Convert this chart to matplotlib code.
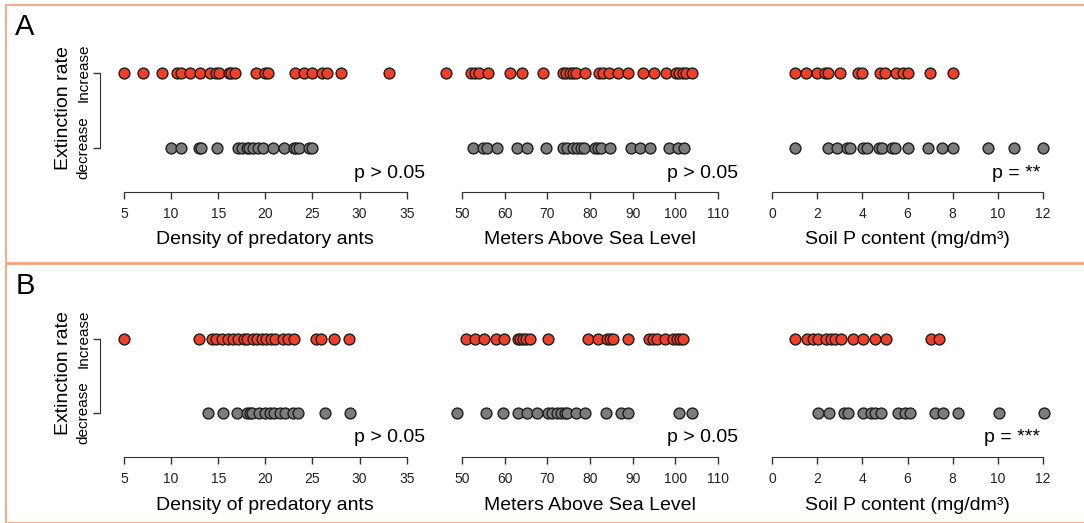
import numpy as np
import matplotlib.pyplot as plt
from matplotlib.patches import Rectangle

plt.rcParams['font.family'] = ['Liberation Sans', 'DejaVu Sans']

# ---- panel A ----
a_ants_inc = [5, 7, 9, 10.6, 11.0, 12.0, 13.1, 14.1, 14.8, 15.1, 16.1, 16.4, 16.8,
              19.0, 20.0, 20.3, 23.1, 24.1, 25.0, 26.0, 26.5, 28.0, 33.1]
a_ants_dec = [10.0, 11.0, 13.0, 13.2, 14.9, 17.1, 17.5, 18.0, 18.3, 18.7, 19.2, 19.7,
              20.8, 22.0, 23.0, 23.3, 23.6, 24.6, 24.9]
a_alt_inc = [46.2, 52.0, 53.0, 54.0, 56.1, 61.2, 64.1, 68.9, 73.7, 74.4, 75.2, 76.0,
             76.8, 78.9, 82.2, 83.0, 84.5, 86.5, 88.8, 92.4, 95.1, 97.7, 100.2, 100.9,
             101.9, 102.5, 103.9]
a_alt_dec = [52.6, 55.0, 55.9, 58.3, 63.0, 65.3, 69.6, 73.7, 74.7, 76.1, 76.9, 78.0,
             78.6, 81.1, 81.9, 82.5, 84.7, 89.7, 91.7, 94.0, 98.5, 100.7, 102.0]
a_soil_inc = [1.0, 1.5, 2.0, 2.35, 2.5, 3.0, 3.8, 4.0, 4.8, 5.0, 5.5, 5.8, 6.0, 7.0, 8.0]
a_soil_dec = [1.02, 2.49, 2.86, 3.33, 3.45, 4.01, 4.22, 4.75, 4.85, 5.30, 5.44, 6.03,
              6.92, 7.51, 8.02, 9.57, 10.71, 12.0]

# ---- panel B ----
b_ants_inc = [5.0, 13.0, 14.3, 14.8, 15.4, 16.0, 16.6, 17.1, 17.7, 18.0, 18.7, 19.1,
              19.6, 20.1, 20.6, 21.0, 21.9, 22.4, 23.0, 25.4, 25.9, 27.3, 28.9]
b_ants_dec = [13.9, 15.5, 17.0, 18.0, 18.4, 18.6, 19.3, 20.0, 20.5, 20.9, 21.6, 22.1,
              22.9, 23.5, 26.3, 29.0]
b_alt_inc = [50.9, 53.0, 55.2, 58.0, 59.8, 63.2, 63.7, 64.4, 65.1, 65.9, 70.2, 79.6,
             81.9, 83.9, 84.7, 85.3, 89.0, 93.9, 94.7, 95.6, 97.6, 99.5, 100.3, 101.1,
             101.7]
b_alt_dec = [48.9, 55.6, 59.5, 63.2, 65.3, 67.5, 70.2, 71.2, 72.2, 73.1, 74.1, 74.7,
             76.7, 78.8, 83.7, 87.2, 88.9, 100.9, 104.0]
b_soil_inc = [1.02, 1.54, 1.83, 2.05, 2.39, 2.60, 2.79, 3.04, 3.57, 4.04, 4.56, 5.04,
              7.02, 7.40]
b_soil_dec = [2.05, 2.54, 3.19, 3.38, 4.01, 4.37, 4.56, 4.81, 5.59, 5.88, 6.11, 7.21,
              7.58, 8.24, 10.06, 12.04]

xlabels = ['Density of predatory ants', 'Meters Above Sea Level', 'Soil P content (mg/dm³)']
xticks = [[5, 10, 15, 20, 25, 30, 35],
          [50, 60, 70, 80, 90, 100, 110],
          [0, 2, 4, 6, 8, 10, 12]]
pvals_A = ['p > 0.05', 'p > 0.05', 'p = **']
pvals_B = ['p > 0.05', 'p > 0.05', 'p = ***']

RED = '#F0402A'
GRAY = '#7C7C7C'
EDGE = '#1E1E1E'
AXC = '#333333'
W, H = 1084, 523

fig = plt.figure(figsize=(W / 100, H / 100), dpi=100)

# column extents in pixels (left, right)
cols = [(124, 406.7), (462, 718), (772, 1043)]
p_right = [425, 738, 1040]


def draw_panel(letter, y_inc, y_dec, y_axis, data, pvals, y_top, y_bot):
    # orange frame around panel
    fig.patches.append(Rectangle((6 / W, 1 - y_bot / H), 1.2, (y_bot - y_top) / H,
                                 transform=fig.transFigure, fill=False,
                                 edgecolor='#F5A47E', linewidth=1.3))
    fig.text(25 / W, 1 - (y_top + 22) / H, letter, fontsize=21, ha='center', va='center')

    unit = (y_dec - y_inc)
    ylo = -(y_axis - y_dec) / unit
    yhi = 1 + 12 / unit
    for i, (x0, x1) in enumerate(cols):
        ax = fig.add_axes([x0 / W, 1 - y_axis / H, (x1 - x0) / W,
                           (y_axis - (y_inc - 12)) / H])
        ax.set_facecolor('none')
        inc, dec = data[i]
        ax.plot(dec, np.zeros(len(dec)), 'o', ms=7.8, mfc=GRAY, mec=EDGE, mew=1.0,
                clip_on=False)
        ax.plot(inc, np.ones(len(inc)), 'o', ms=7.8, mfc=RED, mec=EDGE, mew=1.0,
                clip_on=False)
        t = xticks[i]
        ax.set_xlim(t[0], t[-1])
        ax.set_ylim(ylo, yhi)
        for s in ['top', 'right']:
            ax.spines[s].set_visible(False)
        ax.spines['bottom'].set_bounds(t[0], t[-1])
        ax.spines['bottom'].set_color(AXC)
        ax.set_xticks(t)
        ax.tick_params(axis='x', direction='out', length=5, width=1, color=AXC,
                       labelsize=10, labelcolor='#222222', pad=6)
        if i == 0:
            ax.spines['left'].set_position(('outward', 24 * 0.72))
            ax.spines['left'].set_bounds(0, 1)
            ax.spines['left'].set_color(AXC)
            ax.set_yticks([0, 1])
            ax.set_yticklabels(['decrease', 'Increase'], rotation=90, va='center')
            ax.tick_params(axis='y', direction='out', length=5, width=1, color=AXC,
                           labelsize=11, pad=2)
        else:
            ax.spines['left'].set_visible(False)
            ax.set_yticks([])
        fig.text((x0 + x1) / 2 / W, 1 - (y_axis + 48) / H, xlabels[i], fontsize=14,
                 ha='center', va='center')
        fig.text(p_right[i] / W, 1 - (y_axis - 19) / H, pvals[i], fontsize=14,
                 ha='right', va='center')

    fig.text(63 / W, 1 - ((y_inc + y_dec) / 2 - 2) / H, 'Extinction rate', fontsize=14,
             rotation=90, ha='center', va='center')


draw_panel('A', 73, 148, 192,
           [(a_ants_inc, a_ants_dec), (a_alt_inc, a_alt_dec), (a_soil_inc, a_soil_dec)],
           pvals_A, 5, 262.5)
draw_panel('B', 338.5, 412.5, 457,
           [(b_ants_inc, b_ants_dec), (b_alt_inc, b_alt_dec), (b_soil_inc, b_soil_dec)],
           pvals_B, 264, 522.5)

fig.savefig('out.png', dpi=100)
